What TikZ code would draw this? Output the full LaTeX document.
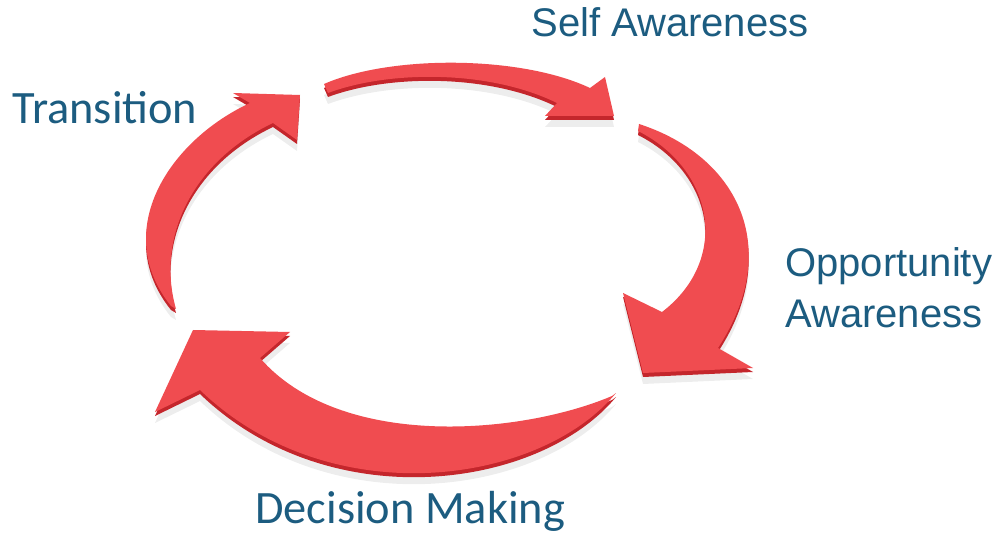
\documentclass[tikz,border=0pt]{standalone}
\usepackage{fontspec}
\setmainfont{Liberation Sans}
\newfontfamily\calibriFont{Carlito}

\definecolor{arrowRed}{RGB}{240,76,80}
\definecolor{arrowDark}{RGB}{196,38,44}
\definecolor{labelBlue}{RGB}{28,92,128}

\tikzset{every picture/.style={x=0.02cm, y=-0.02cm},
        arrowTop/.style={fill=arrowRed},
        arrowSide/.style={fill=arrowDark, yshift=-0.08cm},
        arrowShadow/.style={fill=black, fill opacity=0.07, yshift=-0.22cm},
        arialLabel/.style={anchor=base west, inner sep=0pt, text=labelBlue, font=\fontsize{22.76pt}{27pt}\selectfont},
        calibriLabel/.style={anchor=base west, inner sep=0pt, text=labelBlue, font=\calibriFont\fontsize{26.4pt}{31pt}\selectfont}}

% one curved arrow: shadow, side and top face
\newcommand{\cycleArrow}[1]{%
    \fill[arrowShadow] #1;
    \fill[arrowSide] #1;
    \fill[arrowTop] #1;
}

\begin{document}
\begin{tikzpicture}

\useasboundingbox (0,0) rectangle (1000,533);
\fill[white] (0,0) rectangle (1000,533);

% draw arrows
\cycleArrow{(324,84) .. controls (390,55) and (520,55) .. (590,88) -- (605,77) -- (614,116) -- (545,116) -- (557,103) .. controls (490,70) and (390,70) .. (328,93) -- cycle}
\cycleArrow{(639,124) .. controls (735,155) and (785,245) .. (718,348) -- (753,368) -- (643,373) -- (623,293) -- (662,312) .. controls (730,260) and (715,170) .. (638,131) -- cycle}
\cycleArrow{(616,393) .. controls (540,485) and (330,515) .. (200,390) -- (155,412) -- (193,330) -- (290,332) -- (260,358) .. controls (340,450) and (520,435) .. (612,396) -- cycle}
\cycleArrow{(171,306) .. controls (110,230) and (170,140) .. (250,103) -- (233,93) -- (300,95) -- (297,140) -- (273,123) .. controls (195,160) and (155,235) .. (176,309) -- cycle}

% draw labels
\node[arialLabel] (self) at (531,37) {Self Awareness};
\node[calibriLabel] (transition) at (12,124) {Transition};
\node[arialLabel] (opportunity) at (785,277) {Opportunity};
\node[arialLabel] (awareness) at (785,328) {Awareness};
\node[calibriLabel] (decision) at (255,523) {Decision Making};

\end{tikzpicture}
\end{document}
